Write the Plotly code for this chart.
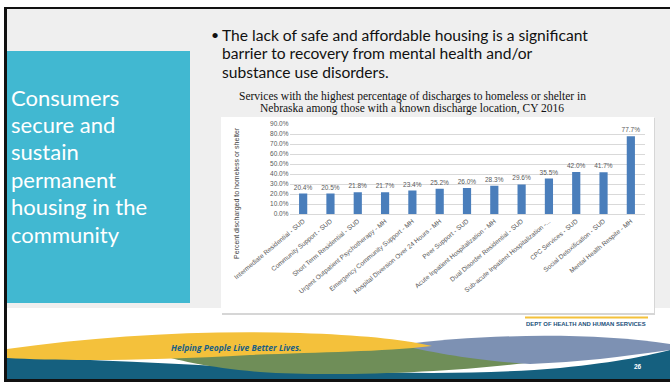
import plotly.graph_objects as go

W, H = 670, 382

services = [
    "Intermediate Residential - SUD",
    "Community Support - SUD",
    "Short Term Residential - SUD",
    "Urgent Outpatient Psychotherapy - MH",
    "Emergency Community Support - MH",
    "Hospital Diversion Over 24 Hours - MH",
    "Peer Support - SUD",
    "Acute Inpatient Hospitalization - MH",
    "Dual Disorder Residential - SUD",
    "Sub-acute Inpatient Hospitalization -...",
    "CPC Services - SUD",
    "Social Detoxification - SUD",
    "Mental Health Respite - MH",
]
pct_homeless = [0.204, 0.205, 0.218, 0.217, 0.234, 0.252, 0.260, 0.283, 0.296, 0.355, 0.420, 0.417, 0.777]
y_ticks = [0.0, 0.1, 0.2, 0.3, 0.4, 0.5, 0.6, 0.7, 0.8, 0.9]

side_lines = ["Consumers", "secure and", "sustain", "permanent", "housing in the", "community"]
bullet_lines = [
    "The lack of safe and affordable housing is a significant",
    "barrier to recovery from mental health and/or",
    "substance use disorders.",
]
chart_title = [
    "Services with the highest percentage of discharges to homeless or shelter in",
    "Nebraska among those with a known discharge location, CY 2016",
]


def px(x):
    return x / W


def py(y):
    return 1 - y / H


def path(points_str):
    # convert "x,y" pixel pairs into paper coordinates for SVG paths
    out = []
    for tok in points_str.split():
        if "," in tok:
            a, b = tok.split(",")
            out.append(f"{px(float(a)):.5f},{py(float(b)):.5f}")
        else:
            out.append(tok)
    return " ".join(out)


fig = go.Figure()
fig.add_trace(go.Bar(
    x=services,
    y=pct_homeless,
    marker=dict(color="#4a7ebb", line=dict(width=0)),
    width=0.3,
    texttemplate="%{y:.1%}",
    textposition="outside",
    constraintext="none",
    textfont=dict(family="Liberation Sans", size=6.5, color="#595959"),
    cliponaxis=False,
))

shapes = []
# slide background and frame
shapes.append(dict(type="rect", xref="paper", yref="paper", x0=px(5), x1=px(670), y0=py(382), y1=py(8),
                   fillcolor="#efefef", line=dict(width=0), layer="below"))
shapes.append(dict(type="rect", xref="paper", yref="paper", x0=px(5), x1=px(670), y0=py(380), y1=py(308),
                   fillcolor="#ffffff", line=dict(width=0), layer="below"))
# footer waves
shapes.append(dict(type="path", xref="paper", yref="paper", layer="below", line=dict(width=0), fillcolor="#15607f",
                   path=path("M 7,357 C 200,362 400,382 560,368 C 620,362 650,355 670,350 L 670,379 L 7,379 Z")))
shapes.append(dict(type="path", xref="paper", yref="paper", layer="below", line=dict(width=0), fillcolor="#6f8e58",
                   path=path("M 150,352 C 300,342 450,345 570,356 C 500,370 350,378 260,372 C 210,368 175,360 150,352 Z")))
shapes.append(dict(type="path", xref="paper", yref="paper", layer="below", line=dict(width=0), fillcolor="#7d91b3",
                   path=path("M 400,345 C 480,334 590,332 670,344 L 670,350 C 620,357 580,362 530,364 C 470,360 430,352 400,345 Z")))
shapes.append(dict(type="path", xref="paper", yref="paper", layer="below", line=dict(width=0), fillcolor="#f4c13b",
                   path=path("M 7,349 C 100,336 200,330 300,333 C 360,335 400,339 432,346 C 380,352 320,352 250,355 C 150,361 60,361 7,358 Z")))
# black frame edges
shapes.append(dict(type="rect", xref="paper", yref="paper", x0=px(5), x1=px(670), y0=py(9), y1=py(7),
                   fillcolor="#111111", line=dict(width=0), layer="below"))
shapes.append(dict(type="rect", xref="paper", yref="paper", x0=px(4), x1=px(7), y0=py(382), y1=py(7),
                   fillcolor="#111111", line=dict(width=0), layer="below"))
shapes.append(dict(type="rect", xref="paper", yref="paper", x0=px(5), x1=px(670), y0=py(382), y1=py(379),
                   fillcolor="#111111", line=dict(width=0), layer="below"))
# side panel
shapes.append(dict(type="rect", xref="paper", yref="paper", x0=px(7), x1=px(190), y0=py(303), y1=py(51),
                   fillcolor="#41b8d1", line=dict(width=0), layer="below"))
# chart card with shadow
shapes.append(dict(type="rect", xref="paper", yref="paper", x0=px(222), x1=px(655), y0=py(315), y1=py(118),
                   fillcolor="#d6d6d6", line=dict(width=0), layer="below"))
shapes.append(dict(type="rect", xref="paper", yref="paper", x0=px(221), x1=px(654), y0=py(313), y1=py(117),
                   fillcolor="#ffffff", line=dict(width=0), layer="below"))
# footer rule
shapes.append(dict(type="rect", xref="paper", yref="paper", x0=px(525), x1=px(648), y0=py(318.5), y1=py(316.5),
                   fillcolor="#f4c13b", line=dict(width=0), layer="below"))

annotations = []
for i, line in enumerate(side_lines):
    annotations.append(dict(xref="paper", yref="paper", x=px(9), y=py(97 + i * 27.4), xanchor="left", yanchor="middle",
                            text=line, showarrow=False,
                            font=dict(family="Lato", size=22, color="#ffffff")))
annotations.append(dict(xref="paper", yref="paper", x=px(209), y=py(34), xanchor="left", yanchor="middle",
                        text="•", showarrow=False, font=dict(family="Lato", size=14, color="#111111")))
for i, line in enumerate(bullet_lines):
    annotations.append(dict(xref="paper", yref="paper", x=px(220), y=py(35 + i * 18.5), xanchor="left", yanchor="middle",
                            text=line, showarrow=False,
                            font=dict(family="Lato", size=15.6, color="#111111")))
for i, line in enumerate(chart_title):
    annotations.append(dict(xref="paper", yref="paper", x=px(412), y=py(96 + i * 12.5), xanchor="center", yanchor="middle",
                            text=line, showarrow=False,
                            font=dict(family="Liberation Serif", size=11.5, color="#111111")))
annotations.append(dict(xref="paper", yref="paper", x=px(237), y=py(193), xanchor="center", yanchor="middle",
                        text="Percent discharged to homeless or shelter", textangle=-90, showarrow=False,
                        font=dict(family="Liberation Sans", size=7, color="#404040")))
annotations.append(dict(xref="paper", yref="paper", x=px(236), y=py(347), xanchor="center", yanchor="middle",
                        text="<b><i>Helping People Live Better Lives.</i></b>", showarrow=False,
                        font=dict(family="Open Sans", size=8.5, color="#1a5f85")))
annotations.append(dict(xref="paper", yref="paper", x=px(586), y=py(324), xanchor="center", yanchor="middle",
                        text="<b>DEPT OF HEALTH AND HUMAN SERVICES</b>", showarrow=False,
                        font=dict(family="Liberation Sans", size=5.9, color="#1a4f7a")))
annotations.append(dict(xref="paper", yref="paper", x=px(638), y=py(366), xanchor="center", yanchor="middle",
                        text="<b>26</b>", showarrow=False,
                        font=dict(family="Liberation Sans", size=6.5, color="#ffffff")))

fig.update_layout(
    width=W, height=H,
    margin=dict(l=0, r=0, t=0, b=0, autoexpand=False),
    paper_bgcolor="#ffffff",
    plot_bgcolor="rgba(0,0,0,0)",
    showlegend=False,
    shapes=shapes,
    annotations=annotations,
    xaxis=dict(
        domain=[px(289.5), px(644.5)],
        automargin=False,
        tickangle=-40,
        tickfont=dict(family="Liberation Sans", size=6.5, color="#595959"),
        showline=True, linecolor="#d9d9d9", linewidth=1,
        ticks="", showgrid=False,
    ),
    yaxis=dict(
        domain=[py(214), py(124)],
        range=[0, 0.9],
        automargin=False,
        tickvals=y_ticks,
        tickformat=".1%",
        tickfont=dict(family="Liberation Sans", size=6.5, color="#595959"),
        showgrid=True, gridcolor="#d9d9d9", gridwidth=1,
        zeroline=False, showline=False, ticks="",
    ),
)

fig.write_html("out.html")
